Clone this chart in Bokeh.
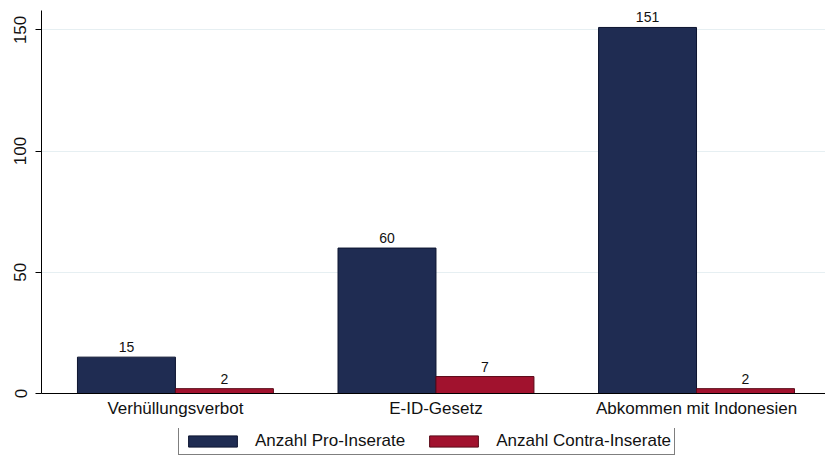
from bokeh.plotting import figure
from bokeh.layouts import column
from bokeh.models import Range1d, Legend, LegendItem, ColumnDataSource, FixedTicker
from bokeh.embed import file_html
from bokeh.resources import INLINE
from bokeh.core.properties import value

categories = ["Verhüllungsverbot", "E-ID-Gesetz", "Abkommen mit Indonesien"]
pro_values = [15, 60, 151]
contra_values = [2, 7, 2]
y_ticks = [0, 50, 100, 150]
series_names = ["Anzahl Pro-Inserate", "Anzahl Contra-Inserate"]

FONT = "Liberation Sans"
NAVY = "#1f2c52"
RED = "#a1122e"
NAVY_LINE = "#0c1430"
RED_LINE = "#5a0a18"

xs = list(range(len(categories)))
w = 0.376
off = w / 2

src_pro = ColumnDataSource(dict(x=[i - off for i in xs], top=pro_values,
                                lab=[str(v) for v in pro_values]))
src_con = ColumnDataSource(dict(x=[i + off for i in xs], top=contra_values,
                                lab=[str(v) for v in contra_values]))

p = figure(frame_width=784, frame_height=383, output_backend="svg", toolbar_location=None,
           x_range=Range1d(-0.514, 2.495), y_range=Range1d(0, 158),
           min_border_left=41, min_border_right=0, min_border_top=10, min_border_bottom=35)
p.outline_line_color = None
p.background_fill_color = "white"
p.border_fill_color = "white"

p.vbar(x="x", top="top", width=w, source=src_pro, fill_color=NAVY, line_color=NAVY_LINE, line_width=1)
p.vbar(x="x", top="top", width=w, source=src_con, fill_color=RED, line_color=RED_LINE, line_width=1)

for s in (src_pro, src_con):
    p.text(x="x", y="top", text="lab", source=s, text_align="center", text_baseline="bottom",
           y_offset=-5, text_font=value(FONT), text_font_size="14px", text_color="#111111")

p.xgrid.visible = False
p.ygrid.grid_line_color = "#e6eff2"
p.ygrid.ticker = FixedTicker(ticks=y_ticks)

p.yaxis.ticker = FixedTicker(ticks=y_ticks)
p.yaxis.major_label_orientation = "vertical"
p.yaxis.major_tick_out = 6
p.yaxis.major_tick_in = 0
p.yaxis.minor_tick_out = 0
p.yaxis.minor_tick_in = 0
p.yaxis.major_label_text_font = FONT
p.yaxis.major_label_text_font_size = "17px"
p.yaxis.major_label_text_color = "#111111"
p.yaxis.axis_line_color = "black"
p.yaxis.major_tick_line_color = "black"
p.yaxis.major_label_standoff = 9

p.xaxis.ticker = FixedTicker(ticks=xs)
p.xaxis.major_label_overrides = {i: c for i, c in zip(xs, categories)}
p.xaxis.major_tick_out = 0
p.xaxis.major_tick_in = 0
p.xaxis.minor_tick_out = 0
p.xaxis.minor_tick_in = 0
p.xaxis.major_label_text_font = FONT
p.xaxis.major_label_text_font_size = "17px"
p.xaxis.major_label_text_color = "#111111"
p.xaxis.axis_line_color = "black"
p.xaxis.major_label_standoff = 5

# legend strip below the chart
lg = figure(frame_width=825, frame_height=29, output_backend="svg", toolbar_location=None,
            x_range=Range1d(0, 1), y_range=Range1d(0, 1),
            min_border_left=0, min_border_right=0, min_border_top=0, min_border_bottom=0)
lg.axis.visible = False
lg.grid.visible = False
lg.outline_line_color = None
lg.border_fill_color = "white"
lg.background_fill_color = "white"
d1 = lg.vbar(x=[5], top=[5], bottom=[4], width=0.1, fill_color=NAVY, line_color=NAVY_LINE)
d2 = lg.vbar(x=[5], top=[5], bottom=[4], width=0.1, fill_color=RED, line_color=RED_LINE)

legend = Legend(items=[LegendItem(label=series_names[0], renderers=[d1]),
                       LegendItem(label=series_names[1], renderers=[d2])],
                orientation="horizontal", location=(178, 2))
legend.border_line_color = "black"
legend.border_line_width = 1
legend.padding = 3
legend.spacing = 18
legend.margin = 0
legend.label_standoff = 12
legend.glyph_width = 61
legend.glyph_height = 14
legend.label_text_font = FONT
legend.label_text_font_size = "17px"
legend.label_text_color = "#111111"
legend.label_height = 14
legend.background_fill_color = "white"
lg.add_layout(legend, "center")

layout = column(p, lg, spacing=0)
open("out.html", "w").write(file_html(layout, INLINE))
